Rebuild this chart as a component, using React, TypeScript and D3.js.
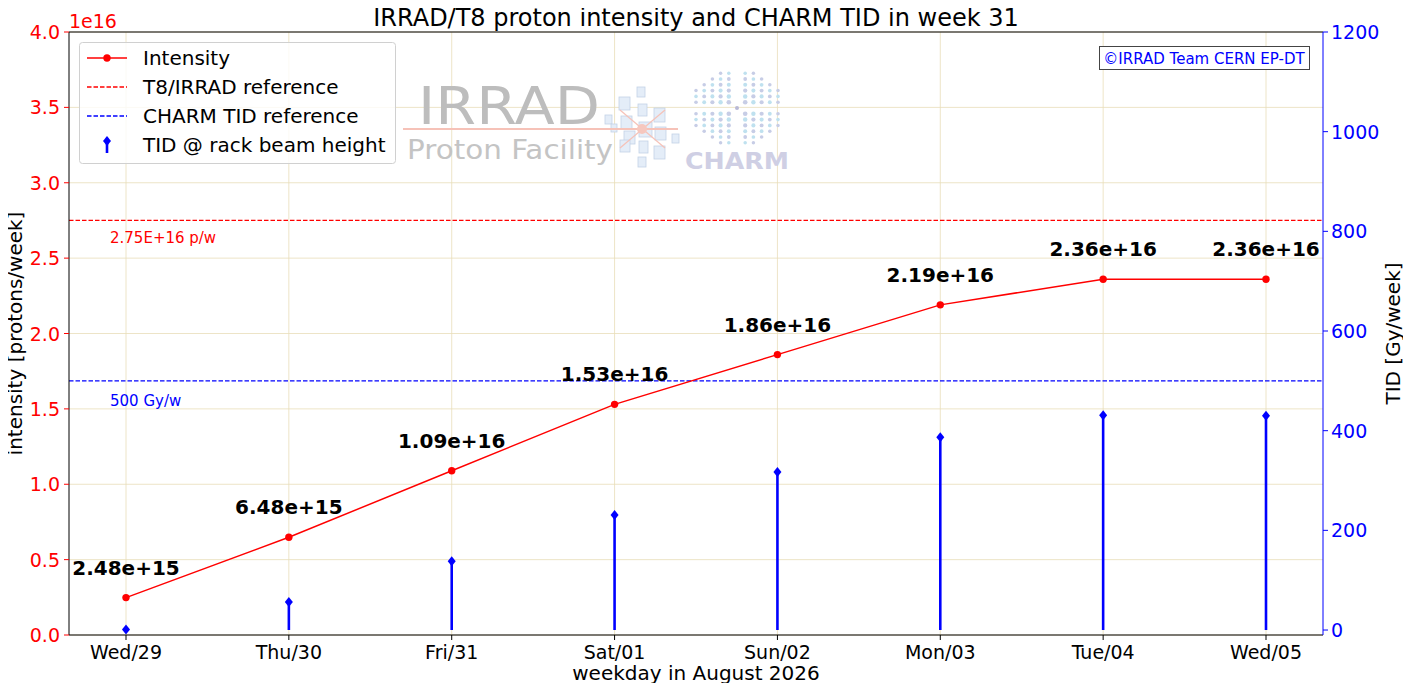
import React from "react";
import * as d3 from "d3";

// chart data
const days = ["Wed/29", "Thu/30", "Fri/31", "Sat/01", "Sun/02", "Mon/03", "Tue/04", "Wed/05"];
const intensity = [2.48e15, 6.48e15, 1.09e16, 1.53e16, 1.86e16, 2.19e16, 2.36e16, 2.36e16];
const intensityLabels = ["2.48e+15", "6.48e+15", "1.09e+16", "1.53e+16", "1.86e+16", "2.19e+16", "2.36e+16", "2.36e+16"];
const tid = [1, 56, 138, 231, 317, 387, 431, 430];
const leftTicks = [0, 0.5, 1.0, 1.5, 2.0, 2.5, 3.0, 3.5, 4.0];
const rightTicks = [0, 200, 400, 600, 800, 1000, 1200];
const t8Reference = 2.75e16;
const charmReference = 500;

const W = 1411;
const H = 691;
const margin = { left: 69, right: 88, top: 32, bottom: 56 };
const FONT = "DejaVu Sans, sans-serif";
const GRID = "#e9ddb9";

// IRRAD / CHARM watermark, drawn faintly behind the data
const Watermark: React.FC = () => {
  const squares: [number, number, number, number][] = [
    [619, 97, 11, 13], [637, 87, 8, 10], [621, 116, 11, 13], [638, 104, 9, 12],
    [654, 108, 11, 14], [605, 115, 7, 9], [624, 131, 11, 13], [639, 122, 13, 15],
    [655, 127, 11, 13], [672, 134, 7, 9], [620, 140, 10, 12], [639, 141, 9, 12],
    [654, 146, 11, 13], [638, 157, 8, 10], [611, 124, 6, 8],
  ];
  const dots: { x: number; y: number; r: number; c: string }[] = [];
  const cx = 737;
  const cy = 108;
  for (let i = -5; i <= 5; i++) {
    for (let j = -6; j <= 6; j++) {
      if (i === 0 || j === 0) continue;
      const x = cx + i * 8.2;
      const y = cy + j * 5.8;
      const r = Math.hypot((x - cx) / 47, (y - cy) / 38);
      if (r <= 1) {
        dots.push({ x, y, r: 1.2 + 1.3 * (1 - r * 0.6), c: (i + j) % 2 === 0 ? "#c7cde6" : "#bfe1ef" });
      }
    }
  }
  return (
    <g>
      <text x={418} y={123.5} fontFamily={FONT} fontSize={51} fill="#bdbdbd" textLength={182} lengthAdjust="spacingAndGlyphs">
        IRRAD
      </text>
      <text x={407} y={159} fontFamily={FONT} fontSize={26.5} fill="#c4c4c4" textLength={206} lengthAdjust="spacingAndGlyphs">
        Proton Facility
      </text>
      {squares.map(([x, y, w, h], i) => (
        <rect key={i} x={x} y={y} width={w} height={h} fill="#e4edf8" stroke="#c3d2e6" strokeWidth={0.8} />
      ))}
      <line x1={403} x2={678} y1={129} y2={129} stroke="#f6c2b8" strokeWidth={2} />
      <line x1={620} x2={665} y1={110} y2={148} stroke="#f6c2b8" strokeWidth={1.2} />
      <line x1={620} x2={665} y1={148} y2={110} stroke="#f6c2b8" strokeWidth={1.2} />
      <circle cx={642} cy={129} r={5} fill="#f6c7be" />
      {dots.map((d, i) => (
        <circle key={i} cx={d.x} cy={d.y} r={d.r} fill={d.c} />
      ))}
      <circle cx={cx} cy={cy} r={2} fill="#b9b9d6" />
      <text x={685} y={169} fontFamily={FONT} fontSize={23} fontWeight="bold" fill="#cfcfe4" textLength={104} lengthAdjust="spacingAndGlyphs">
        CHARM
      </text>
    </g>
  );
};

const App: React.FC = () => {
  const x0 = margin.left;
  const x1 = W - margin.right;
  const y0 = H - margin.bottom;
  const y1 = margin.top;

  const x = d3.scaleLinear().domain([-0.35, days.length - 1 + 0.35]).range([x0, x1]);
  const yL = d3.scaleLinear().domain([0, 4e16]).range([y0, y1]);
  const yR = d3.scaleLinear().domain([-10, 1200]).range([y0, y1]);

  const line = d3
    .line<number>()
    .x((_, i) => x(i))
    .y((d) => yL(d));

  return (
    <svg width={W} height={H} style={{ display: "block", margin: -8 }} fontFamily={FONT}>
      <rect width={W} height={H} fill="#fff" />

      {/* grid */}
      {days.map((_, i) => (
        <line key={"gx" + i} x1={x(i)} x2={x(i)} y1={y1} y2={y0} stroke={GRID} strokeWidth={0.8} />
      ))}
      {leftTicks.map((t) => (
        <line key={"gy" + t} x1={x0} x2={x1} y1={yL(t * 1e16)} y2={yL(t * 1e16)} stroke={GRID} strokeWidth={0.8} />
      ))}

      <Watermark />

      {/* reference lines */}
      <line x1={x0} x2={x1} y1={yL(t8Reference)} y2={yL(t8Reference)} stroke="#ff0000" strokeWidth={1.3} strokeDasharray="4.5,2" />
      <text x={110} y={yL(t8Reference) + 23} fontSize={15} fill="#ff0000">
        2.75E+16 p/w
      </text>
      <line x1={x0} x2={x1} y1={yR(charmReference)} y2={yR(charmReference)} stroke="#0000ff" strokeWidth={1.3} strokeDasharray="4.5,2" />
      <text x={110} y={yR(charmReference) + 25} fontSize={15} fill="#0000ff">
        500 Gy/w
      </text>

      {/* TID stems */}
      {tid.map((v, i) => (
        <g key={"s" + i}>
          <line x1={x(i)} x2={x(i)} y1={yR(0)} y2={yR(v)} stroke="#0000ff" strokeWidth={2.6} />
          <path
            d={`M${x(i)},${yR(v) - 5}L${x(i) + 4},${yR(v)}L${x(i)},${yR(v) + 5}L${x(i) - 4},${yR(v)}Z`}
            fill="#0000ff"
          />
        </g>
      ))}

      {/* intensity */}
      <path d={line(intensity) || ""} fill="none" stroke="#ff0000" strokeWidth={1.5} />
      {intensity.map((v, i) => (
        <circle key={"p" + i} cx={x(i)} cy={yL(v)} r={3.7} fill="#ff0000" />
      ))}
      {intensity.map((v, i) => (
        <text
          key={"l" + i}
          x={x(i)}
          y={yL(v) - 23}
          textAnchor="middle"
          fontSize={20}
          fontWeight="bold"
          fill="#000"
        >
          {intensityLabels[i]}
        </text>
      ))}

      {/* spines */}
      <line x1={x0} x2={x0} y1={y1} y2={y0} stroke="#000" strokeWidth={1} />
      <line x1={x0} x2={x1} y1={y1} y2={y1} stroke="#000" strokeWidth={1} />
      <line x1={x0} x2={x1} y1={y0} y2={y0} stroke="#000" strokeWidth={1} />
      <line x1={x1} x2={x1} y1={y1} y2={y0} stroke="#0000ff" strokeWidth={1} />

      {/* left axis */}
      {leftTicks.map((t) => (
        <g key={"lt" + t}>
          <line x1={x0 - 5} x2={x0} y1={yL(t * 1e16)} y2={yL(t * 1e16)} stroke="#ff0000" />
          <text x={x0 - 9} y={yL(t * 1e16) + 7} textAnchor="end" fontSize={19} fill="#ff0000">
            {t.toFixed(1)}
          </text>
        </g>
      ))}
      <text x={x0} y={y1 - 4} fontSize={19} fill="#ff0000">
        1e16
      </text>
      <text
        transform={`translate(22,${(y0 + y1) / 2}) rotate(-90)`}
        textAnchor="middle"
        fontSize={20}
        fill="#000"
      >
        intensity [protons/week]
      </text>

      {/* right axis */}
      {rightTicks.map((t) => (
        <g key={"rt" + t}>
          <line x1={x1} x2={x1 + 5} y1={yR(t)} y2={yR(t)} stroke="#0000ff" />
          <text x={x1 + 8} y={yR(t) + 7} fontSize={19} fill="#0000ff">
            {t}
          </text>
        </g>
      ))}
      <text
        transform={`translate(1400,${(y0 + y1) / 2}) rotate(-90)`}
        textAnchor="middle"
        fontSize={20}
        fill="#000"
      >
        TID [Gy/week]
      </text>

      {/* x axis */}
      {days.map((d, i) => (
        <g key={"xt" + i}>
          <line x1={x(i)} x2={x(i)} y1={y0} y2={y0 + 5} stroke="#000" />
          <text x={x(i)} y={y0 + 24} textAnchor="middle" fontSize={19} fill="#000">
            {d}
          </text>
        </g>
      ))}
      <text x={(x0 + x1) / 2} y={680} textAnchor="middle" fontSize={20} fill="#000">
        weekday in August 2026
      </text>

      {/* title */}
      <text x={(x0 + x1) / 2} y={26} textAnchor="middle" fontSize={24} fill="#000">
        IRRAD/T8 proton intensity and CHARM TID in week 31
      </text>

      {/* copyright box */}
      <rect x={1099.5} y={46.5} width={210} height={23} fill="#fff" stroke="#444" strokeWidth={1} />
      <text x={1204} y={64} textAnchor="middle" fontSize={15} fill="#0000ff">
        ©IRRAD Team CERN EP-DT
      </text>

      {/* legend */}
      <g>
        <rect x={79.5} y={42.5} width={316} height={121} rx={3} fill="#fff" fillOpacity={0.8} stroke="#d0d0d0" />
        <line x1={87} x2={127} y1={58} y2={58} stroke="#ff0000" strokeWidth={1.5} />
        <circle cx={107} cy={58} r={3.7} fill="#ff0000" />
        <text x={143} y={65} fontSize={20}>Intensity</text>
        <line x1={87} x2={127} y1={87} y2={87} stroke="#ff0000" strokeWidth={1.3} strokeDasharray="4.5,2" />
        <text x={143} y={94} fontSize={20}>T8/IRRAD reference</text>
        <line x1={87} x2={127} y1={116} y2={116} stroke="#0000ff" strokeWidth={1.3} strokeDasharray="4.5,2" />
        <text x={143} y={123} fontSize={20}>CHARM TID reference</text>
        <line x1={107} x2={107} y1={141} y2={153} stroke="#0000ff" strokeWidth={2.6} />
        <path d="M107,136L111,141L107,146L103,141Z" fill="#0000ff" />
        <text x={143} y={152} fontSize={20}>TID @ rack beam height</text>
      </g>
    </svg>
  );
};

export default App;
